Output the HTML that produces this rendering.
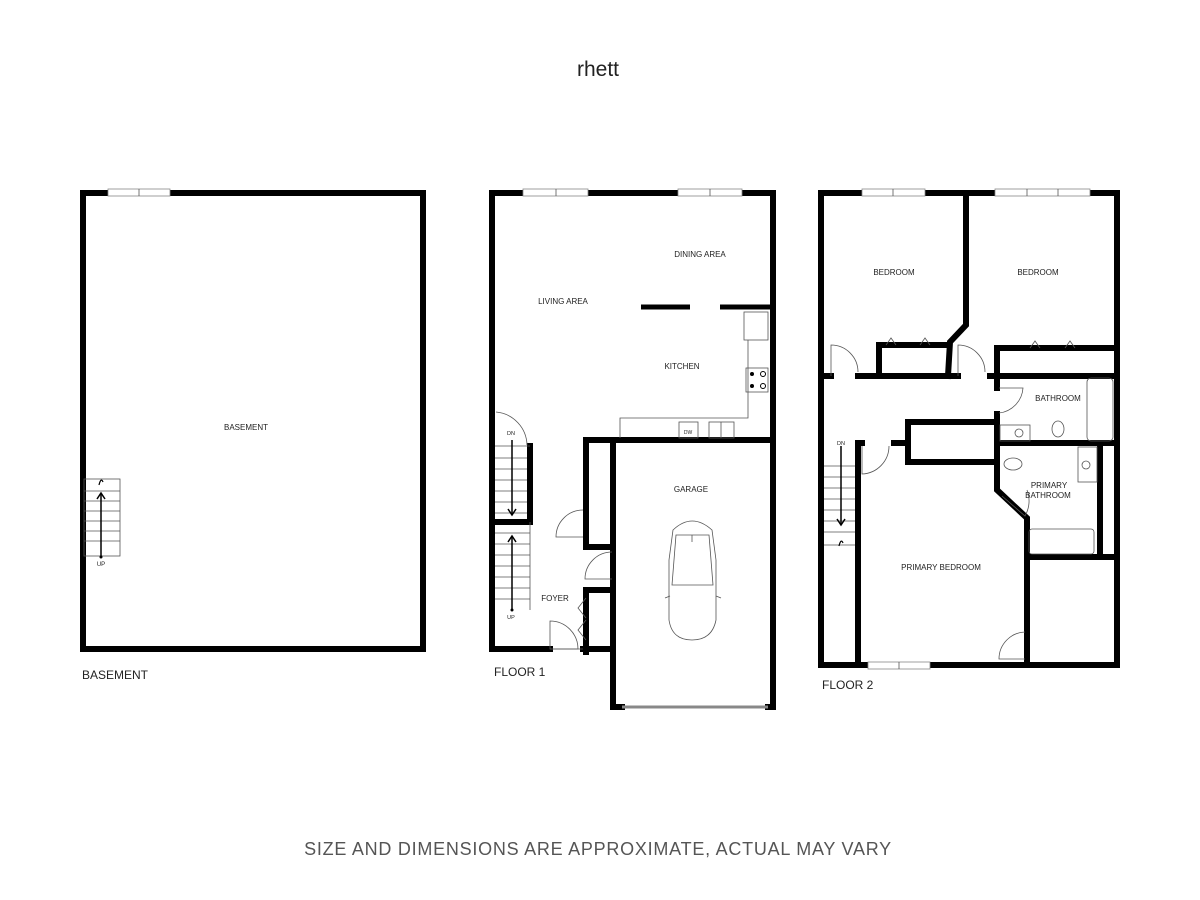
<!DOCTYPE html>
<html><head><meta charset="utf-8"><style>
html,body{margin:0;padding:0;background:#fff;width:1200px;height:900px;overflow:hidden}
svg{display:block}
text{font-family:"Liberation Sans",sans-serif;fill:#222}
.l{font-size:8px;text-anchor:middle}
.w{stroke:#000;stroke-width:6;fill:none;stroke-linecap:square}
.t{stroke:#555;stroke-width:0.8;fill:none}
.win{fill:#fff;stroke:#888;stroke-width:0.8}
</style></head><body>
<svg width="1200" height="900" viewBox="0 0 1200 900">
<text x="598" y="76" font-size="21" text-anchor="middle" fill="#111">rhett</text>

<!-- BASEMENT -->
<rect x="83" y="193" width="340" height="456" class="w"/>
<rect x="108" y="189" width="62" height="7" class="win"/>
<line x1="139" y1="189" x2="139" y2="196" class="t"/>
<g class="t">
<rect x="84" y="479" width="36" height="77"/>
<line x1="84" y1="491" x2="120" y2="491"/><line x1="84" y1="501" x2="120" y2="501"/>
<line x1="84" y1="511" x2="120" y2="511"/><line x1="84" y1="521" x2="120" y2="521"/>
<line x1="84" y1="531" x2="120" y2="531"/><line x1="84" y1="541" x2="120" y2="541"/>
</g>
<line x1="101" y1="556" x2="101" y2="494" stroke="#000" stroke-width="1.5"/>
<path d="M97 499 L101 493 L105 499" stroke="#000" fill="none" stroke-width="1.5"/>
<circle cx="101" cy="557" r="1.5"/>
<path d="M99 485 q2 -8 4 -3" stroke="#000" fill="none" stroke-width="1.2"/>
<text x="101" y="566" font-size="6" text-anchor="middle">UP</text>
<text x="246" y="430" class="l" font-size="7">BASEMENT</text>
<text x="82" y="679" font-size="12">BASEMENT</text>

<!-- FLOOR 1 -->
<path class="w" d="M550 649 L492 649 L492 193 L773 193 L773 707 L768 707"/>
<path class="w" d="M622 707 L613 707 L613 440"/>
<path class="w" d="M583 649 L613 649"/>
<line x1="586" y1="440" x2="773" y2="440" class="w"/>
<path class="w" d="M586 440 L586 510"/>
<path class="w" d="M586 510 L586 547 L613 547"/>
<path class="w" d="M613 590 L586 590 L586 652"/>
<rect x="523" y="189" width="65" height="7" class="win"/><line x1="556" y1="189" x2="556" y2="196" class="t"/>
<rect x="678" y="189" width="64" height="7" class="win"/><line x1="710" y1="189" x2="710" y2="196" class="t"/>
<line x1="622" y1="707" x2="768" y2="707" stroke="#888" stroke-width="3"/>
<line x1="550" y1="649" x2="583" y2="649" class="t"/>
<line x1="641" y1="307" x2="690" y2="307" stroke="#000" stroke-width="5"/>
<line x1="720" y1="307" x2="771" y2="307" stroke="#000" stroke-width="5"/>
<path class="t" d="M620 438 L620 418 L748 418 L748 340"/>
<rect x="744" y="312" width="24" height="28" class="t"/>
<rect x="746" y="368" width="22" height="24" class="t"/>
<circle cx="752" cy="374" r="2"/><circle cx="763" cy="374" r="2.5" fill="none" stroke="#000"/>
<circle cx="752" cy="386" r="2"/><circle cx="763" cy="386" r="2.5" fill="none" stroke="#000"/>
<rect x="679" y="422" width="19" height="16" class="t"/><text x="688" y="434" font-size="5" text-anchor="middle">DW</text>
<rect x="709" y="422" width="25" height="16" class="t"/><line x1="721" y1="422" x2="721" y2="438" class="t"/>
<!-- stairs f1 -->
<path class="w" d="M530 446 L530 522 L495 522"/>
<g class="t">
<line x1="495" y1="446" x2="530" y2="446"/>
<line x1="495" y1="458" x2="527" y2="458"/><line x1="495" y1="469" x2="527" y2="469"/>
<line x1="495" y1="480" x2="527" y2="480"/><line x1="495" y1="491" x2="527" y2="491"/>
<line x1="495" y1="502" x2="527" y2="502"/><line x1="495" y1="513" x2="527" y2="513"/>
<line x1="495" y1="533" x2="530" y2="533"/><line x1="495" y1="544" x2="530" y2="544"/>
<line x1="495" y1="555" x2="530" y2="555"/><line x1="495" y1="566" x2="530" y2="566"/>
<line x1="495" y1="577" x2="530" y2="577"/><line x1="495" y1="588" x2="530" y2="588"/>
<line x1="495" y1="599" x2="530" y2="599"/><line x1="530" y1="522" x2="530" y2="610"/>
<path d="M496 412 A34 34 0 0 1 527 445"/>
</g>
<line x1="512" y1="440" x2="512" y2="515" stroke="#000" stroke-width="1.5"/>
<path d="M508 509 L512 515 L516 509" stroke="#000" fill="none" stroke-width="1.5"/>
<line x1="512" y1="610" x2="512" y2="536" stroke="#000" stroke-width="1.5"/>
<path d="M508 542 L512 536 L516 542" stroke="#000" fill="none" stroke-width="1.5"/>
<circle cx="512" cy="610" r="1.5"/>
<text x="511" y="435" font-size="5.5" text-anchor="middle">DN</text>
<text x="511" y="619" font-size="5.5" text-anchor="middle">UP</text>
<g class="t">
<path d="M583 510 A27 27 0 0 0 556 537 L583 537"/>
<path d="M612 552 A27 27 0 0 0 585 579 L612 579"/>
<path d="M550 621 A28 28 0 0 1 578 649 L550 649 Z" fill="none"/>
<path d="M586 598 L578 608 L586 618 M586 620 L578 630 L586 640"/>
</g>
<!-- car -->
<g class="t" stroke="#333">
<path d="M673 530 Q692 512 712 530 L716 560 L716 620 Q712 640 692 640 Q672 640 669 620 L669 560 Z"/>
<path d="M676 535 L709 535 L713 585 L672 585 Z"/>
<line x1="692" y1="535" x2="692" y2="542"/>
<path d="M670 596 L665 598 M716 596 L721 598"/>
</g>
<text x="700" y="257" class="l">DINING AREA</text>
<text x="563" y="304" class="l">LIVING AREA</text>
<text x="682" y="369" class="l">KITCHEN</text>
<text x="691" y="492" class="l">GARAGE</text>
<text x="555" y="601" class="l">FOYER</text>
<text x="494" y="676" font-size="12">FLOOR 1</text>

<!-- FLOOR 2 -->
<rect x="821" y="193" width="296" height="472" class="w"/>
<rect x="862" y="189" width="63" height="7" class="win"/><line x1="893" y1="189" x2="893" y2="196" class="t"/>
<rect x="995" y="189" width="95" height="7" class="win"/><line x1="1027" y1="189" x2="1027" y2="196" class="t"/><line x1="1058" y1="189" x2="1058" y2="196" class="t"/>
<rect x="868" y="662" width="62" height="7" class="win"/><line x1="899" y1="662" x2="899" y2="669" class="t"/>
<path class="w" d="M966 193 L966 325 L950 342 L948 376"/>
<path class="w" d="M879 376 L879 345 L946 345"/>
<line x1="821" y1="376" x2="831" y2="376" class="w"/>
<line x1="858" y1="376" x2="958" y2="376" class="w"/>
<line x1="990" y1="376" x2="1117" y2="376" class="w"/>
<path class="w" d="M997 376 L997 348 L1117 348"/>
<path class="w" d="M997 376 L997 388"/>
<path class="w" d="M997 414 L997 490 L1027 518 L1027 665"/>
<line x1="997" y1="443" x2="1117" y2="443" class="w"/>
<path class="w" d="M908 443 L908 422 L997 422 M908 443 L908 462 L997 462"/>
<path class="w" d="M858 665 L858 443 L862 443 M894 443 L908 443"/>
<line x1="1027" y1="557" x2="1117" y2="557" class="w"/>
<line x1="1100" y1="443" x2="1100" y2="557" class="w"/>
<g class="t">
<path d="M831 376 L831 345 A27 27 0 0 1 858 372"/>
<path d="M958 376 L958 345 A27 27 0 0 1 985 372"/>
<path d="M886 345 L891 338 L896 345 M920 345 L925 338 L930 345"/>
<path d="M1030 348 L1035 341 L1040 348 M1065 348 L1070 341 L1075 348"/>
<path d="M999 388 L1023 388 A27 27 0 0 1 999 413"/>
<path d="M862 446 L862 474 A28 28 0 0 0 889 446"/>
<path d="M1025 632 A27 27 0 0 0 999 659 L1025 659"/>
<path d="M1002 496 L1025 516 A30 30 0 0 0 1027 490"/>
<rect x="1087" y="378" width="26" height="63" rx="4"/>
<rect x="1000" y="425" width="30" height="16"/>
<circle cx="1019" cy="433" r="4"/>
<ellipse cx="1058" cy="429" rx="6" ry="8"/>
<rect x="1029" y="529" width="65" height="25" rx="3"/>
<ellipse cx="1013" cy="464" rx="9" ry="6"/>
<rect x="1078" y="447" width="19" height="35"/>
<circle cx="1086" cy="465" r="4"/>
</g>
<!-- stairs f2 -->
<g class="t">
<line x1="824" y1="466" x2="855" y2="466"/><line x1="824" y1="477" x2="855" y2="477"/>
<line x1="824" y1="488" x2="855" y2="488"/><line x1="824" y1="499" x2="855" y2="499"/>
<line x1="824" y1="510" x2="855" y2="510"/><line x1="824" y1="521" x2="855" y2="521"/>
<line x1="824" y1="532" x2="855" y2="532"/><line x1="824" y1="545" x2="855" y2="545"/>
</g>
<line x1="841" y1="446" x2="841" y2="525" stroke="#000" stroke-width="1.5"/>
<path d="M837 519 L841 525 L845 519" stroke="#000" fill="none" stroke-width="1.5"/>
<path d="M839 546 q2 -8 4 -3" stroke="#000" fill="none" stroke-width="1.2"/>
<text x="841" y="445" font-size="5.5" text-anchor="middle">DN</text>
<text x="894" y="275" class="l">BEDROOM</text>
<text x="1038" y="275" class="l">BEDROOM</text>
<text x="1058" y="401" class="l">BATHROOM</text>
<text x="1049" y="488" class="l">PRIMARY</text>
<text x="1048" y="498" class="l">BATHROOM</text>
<text x="941" y="570" class="l">PRIMARY BEDROOM</text>
<text x="822" y="689" font-size="12">FLOOR 2</text>

<text x="598" y="855" font-size="18" text-anchor="middle" letter-spacing="0.75" style="fill:#555">SIZE AND DIMENSIONS ARE APPROXIMATE, ACTUAL MAY VARY</text>
</svg>
</body></html>
